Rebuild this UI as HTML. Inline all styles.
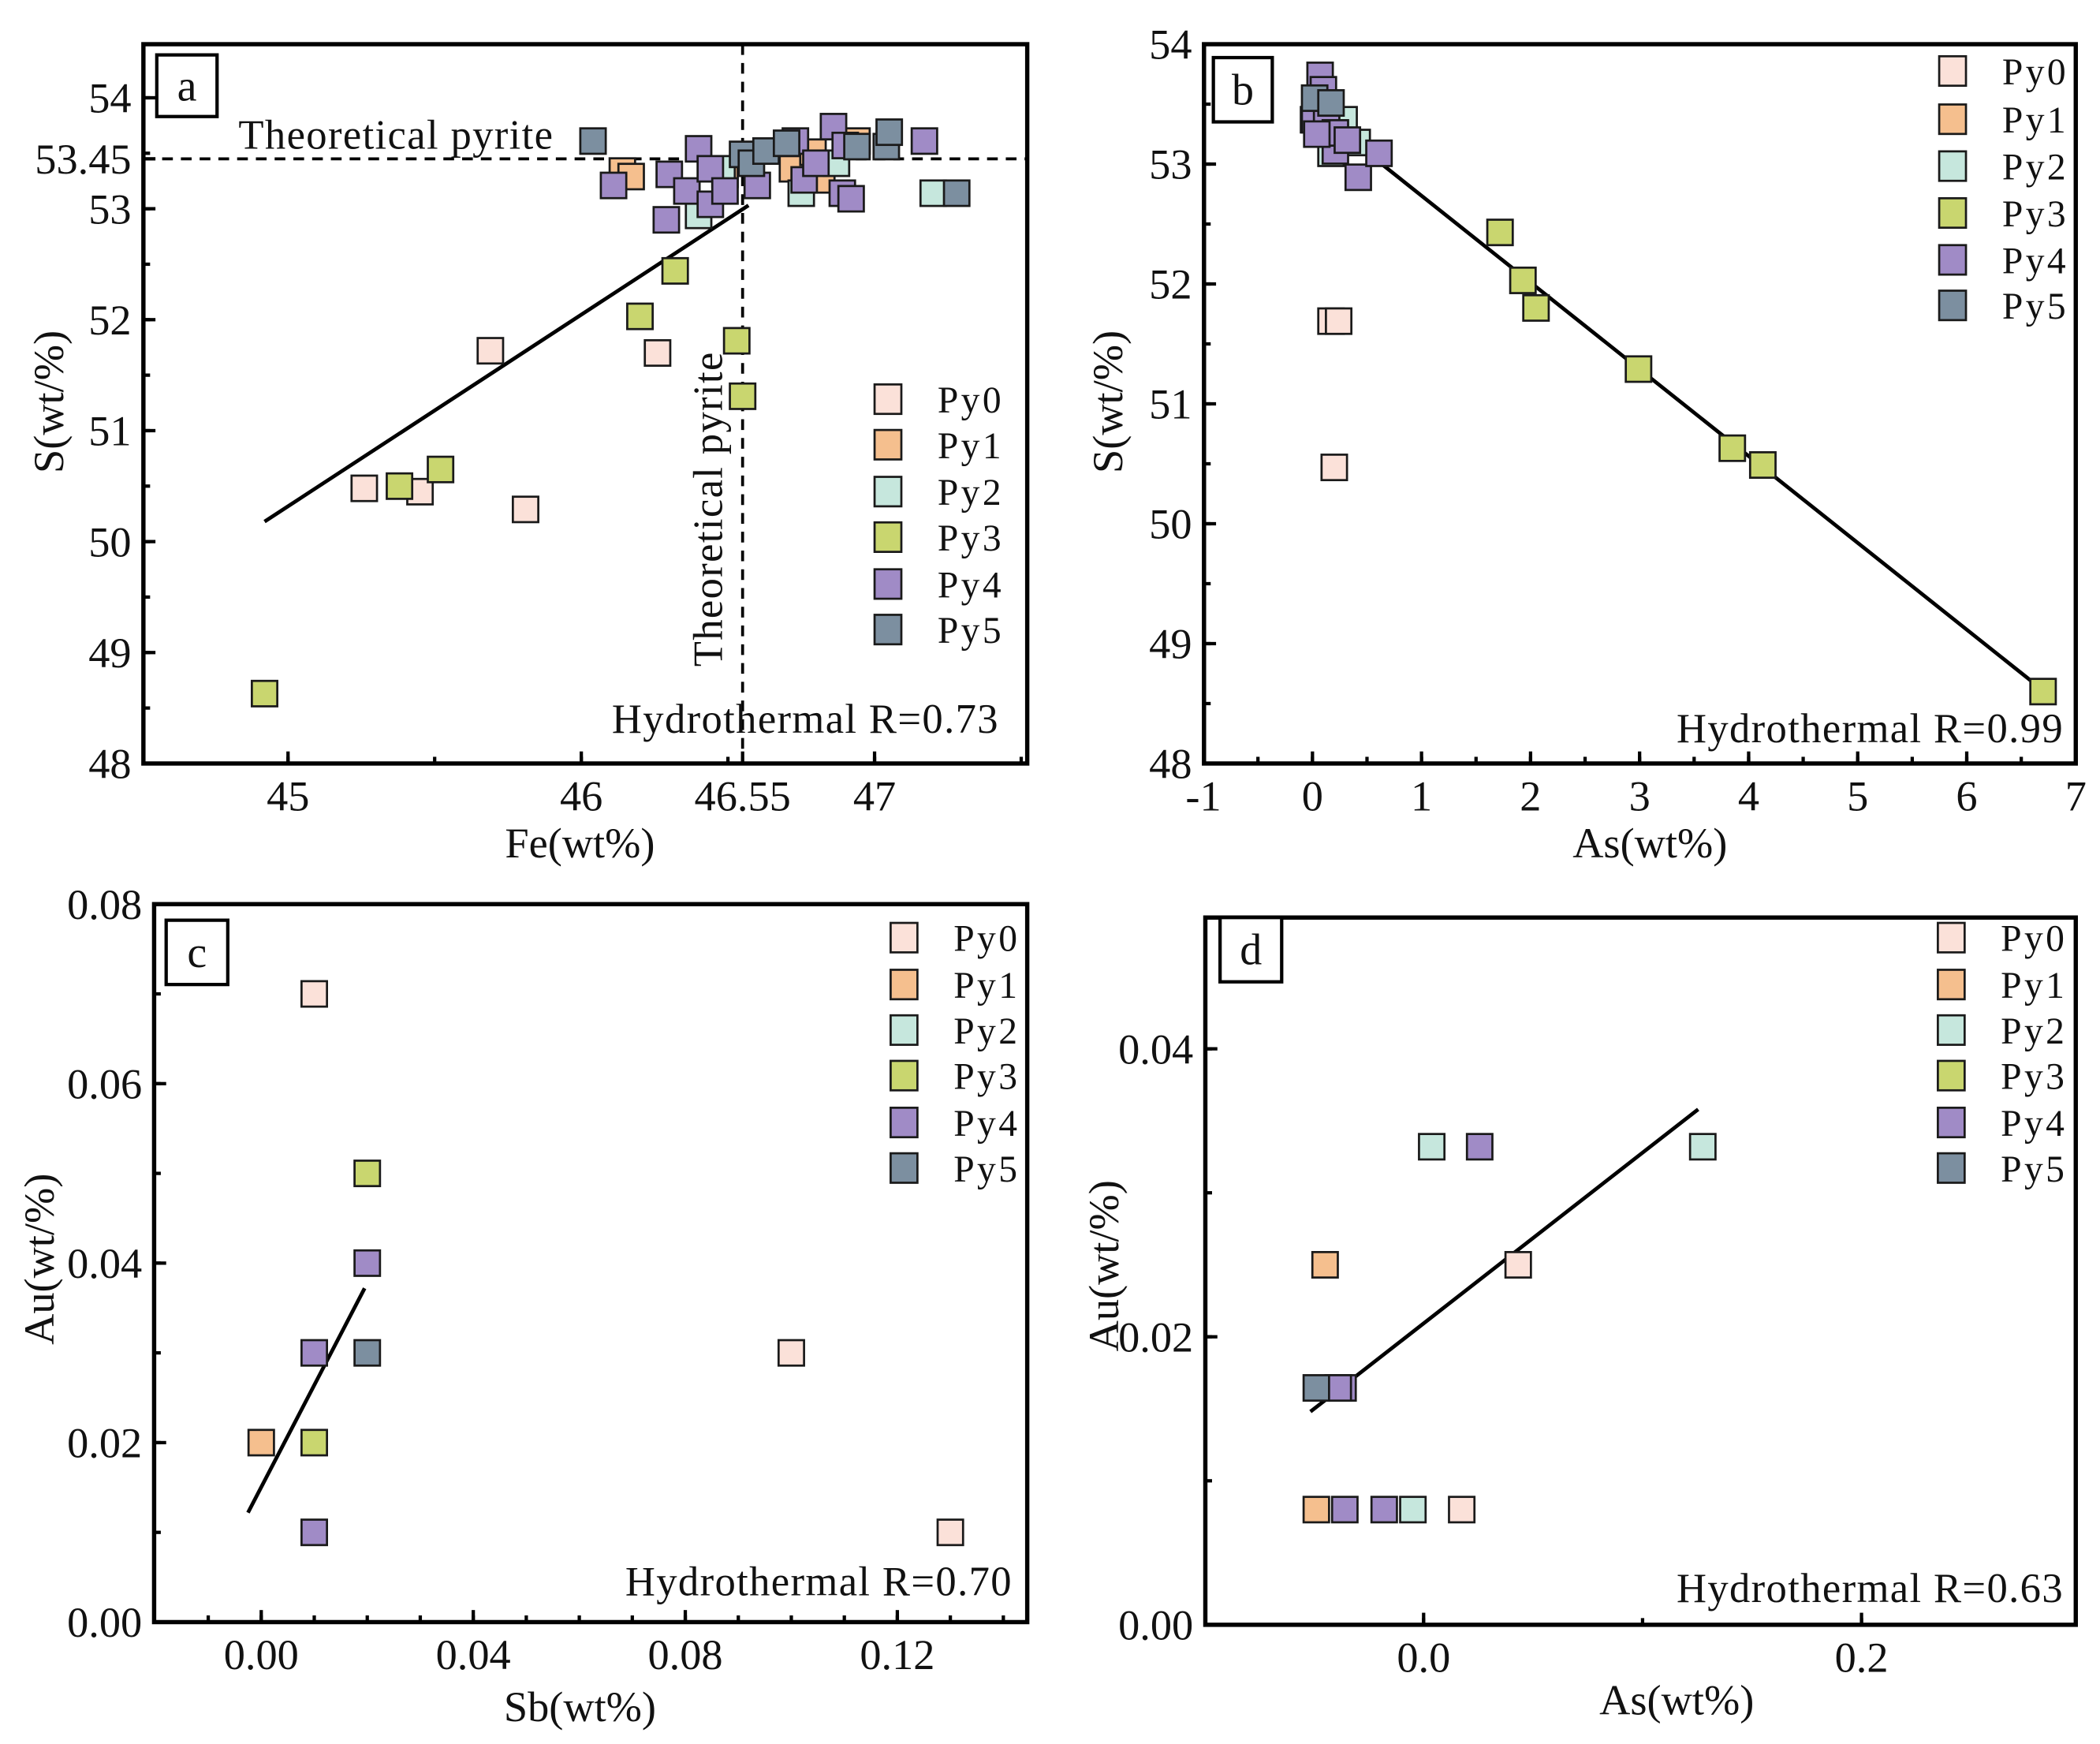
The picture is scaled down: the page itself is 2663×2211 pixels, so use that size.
<!DOCTYPE html>
<html><head><meta charset="utf-8">
<style>
html,body{margin:0;padding:0;background:#fff;}
svg{display:block;}
text{font-family:"Liberation Serif",serif;fill:#111;}
</style></head>
<body>
<svg id="fig" width="2663" height="2211" viewBox="0 0 1568 1302" xmlns="http://www.w3.org/2000/svg"></svg>
<script>
// ---------- Panel a data (Fe vs S) ----------
const aPy0X=[45.26,45.45,45.69,45.81,46.26];
const aPy0Y=[50.48,50.45,51.72,50.29,51.70];
const aPy1X=[46.14,46.17,46.49,46.72,46.79,46.82,46.94];
const aPy1Y=[53.34,53.29,53.31,53.36,53.51,53.26,53.61];
const aPy2X=[46.40,46.48,46.75,46.87,47.20];
const aPy2Y=[52.94,53.36,53.14,53.41,53.14];
const aPy3X=[44.92,45.38,45.52,46.20,46.32,46.53,46.55];
const aPy3Y=[48.63,50.50,50.65,52.03,52.44,51.81,51.31];
const aPy4X=[46.11,46.30,46.29,46.36,46.40,46.44,46.44,46.49,46.60,46.73,46.76,46.80,46.86,46.89,46.92,46.90,47.17];
const aPy4Y=[53.21,53.31,52.90,53.16,53.54,53.36,53.04,53.16,53.21,53.61,53.26,53.41,53.74,53.14,53.09,53.57,53.61];
const aPy5X=[46.04,46.55,46.58,46.63,46.70,46.94,47.04,47.05,47.28];
const aPy5Y=[53.61,53.49,53.41,53.52,53.59,53.56,53.56,53.69,53.14];
const aFitX=[44.92,46.57];
const aFitY=[50.18,53.03];
const aXTicks=[45,46,46.55,47];
const aXTickLabels=["45","46","46.55","47"];
const aYTicks=[48,49,50,51,52,53,53.45,54];
const aYTickLabels=["48","49","50","51","52","53","53.45","54"];

// ---------- Panel b data (As vs S) ----------
const bPy0X=[0.17,0.24,0.20];
const bPy0Y=[51.69,51.69,50.47];
const bPy1X=[0.01];
const bPy1Y=[53.37];
const bPy2X=[0.29,0.41,0.17];
const bPy2Y=[53.37,53.18,53.09];
const bPy3X=[1.72,1.93,2.05,2.99,3.85,4.13,6.70];
const bPy3Y=[52.43,52.03,51.80,51.29,50.63,50.49,48.60];
const bPy4X=[0.07,0.10,0.02,0.13,0.21,0.21,0.32,0.42,0.61,0.04];
const bPy4Y=[53.74,53.62,53.37,53.34,53.11,53.26,53.20,52.89,53.09,53.25];
const bPy5X=[0.02,0.17];
const bPy5Y=[53.55,53.51];
const bFitX=[0.0,6.70];
const bFitY=[53.46,48.61];
const bXTicks=[-1,0,1,2,3,4,5,6,7];
const bXTickLabels=["-1","0","1","2","3","4","5","6","7"];
const bYTicks=[48,49,50,51,52,53,54];
const bYTickLabels=["48","49","50","51","52","53","54"];

// ---------- Panel c data (Sb vs Au) ----------
const cPy0X=[0.01,0.10,0.13];
const cPy0Y=[0.07,0.03,0.01];
const cPy1X=[0.0];
const cPy1Y=[0.02];
const cPy2X=[];
const cPy2Y=[];
const cPy3X=[0.02,0.01];
const cPy3Y=[0.05,0.02];
const cPy4X=[0.02,0.01,0.01];
const cPy4Y=[0.04,0.03,0.01];
const cPy5X=[0.02];
const cPy5Y=[0.03];
const cFitX=[-0.0025,0.0195];
const cFitY=[0.0122,0.0372];
const cXTicks=[0,0.04,0.08,0.12];
const cXTickLabels=["0.00","0.04","0.08","0.12"];
const cYTicks=[0,0.02,0.04,0.06,0.08];
const cYTickLabels=["0.00","0.02","0.04","0.06","0.08"];

// ---------- Panel d data (As vs Au) ----------
const dPy0X=[0.0174,0.0432];
const dPy0Y=[0.008,0.025];
const dPy1X=[-0.045,-0.049];
const dPy1Y=[0.025,0.008];
const dPy2X=[0.0037,0.1275,-0.0049];
const dPy2Y=[0.0332,0.0332,0.008];
const dPy3X=[];
const dPy3Y=[];
const dPy4X=[0.0256,-0.0368,-0.039,-0.036,-0.018];
const dPy4Y=[0.0332,0.01645,0.01645,0.008,0.008];
const dPy5X=[-0.049];
const dPy5Y=[0.01645];
const dFitX=[-0.0517,0.1254];
const dFitY=[0.0148,0.0358];
const dXTicks=[0,0.2];
const dXTickLabels=["0.0","0.2"];
const dYTicks=[0,0.02,0.04];
const dYTickLabels=["0.00","0.02","0.04"];

const colors=["#fbe1d9","#f5bf8e","#c6e7dd","#c9d66f","#a08bc6","#7c8fa0"];
const names=["Py0","Py1","Py2","Py3","Py4","Py5"];
const NS="http://www.w3.org/2000/svg";
const svg=document.getElementById('fig');
function mk(tag,attrs,parent){const e=document.createElementNS(NS,tag);for(const k in attrs)e.setAttribute(k,attrs[k]);(parent||svg).appendChild(e);return e;}

function panel(cfg){
  const g=mk('g',{});
  
  
  const X=v=>cfg.px0+(v-cfg.x0)*(cfg.px1-cfg.px0)/(cfg.x1-cfg.x0);
  const Y=v=>cfg.py0+(v-cfg.y0)*(cfg.py1-cfg.py0)/(cfg.y1-cfg.y0);
  const L=cfg.L,R=cfg.R,T=cfg.T,B=cfg.B;
  for(let v=cfg.xMinorStart;v<=cfg.xMinorEnd+1e-9;v+=cfg.xMinorStep){const x=X(v);if(x<=L+2||x>=R-2)continue;
    const t=mk('line',{x1:x,x2:x,y1:B,y2:B-5,stroke:'#000','stroke-width':2.5},g);
    
    }
  for(let v=cfg.yMinorStart;v<=cfg.yMinorEnd+1e-9;v+=cfg.yMinorStep){const y=Y(v);if(y>=B-2||y<=T+2)continue;
    const t=mk('line',{x1:L,x2:L+5,y1:y,y2:y,stroke:'#000','stroke-width':2.5},g);
    
    }
  cfg.xt.forEach((v,i)=>{const x=X(v);
    if(x>L+2&&x<R-2){const t=mk('line',{x1:x,x2:x,y1:B,y2:B-9,stroke:'#000','stroke-width':2.5},g);
    
    }
    const tx=mk('text',{x:x,y:B+35,'text-anchor':'middle','font-size':32},g);tx.textContent=cfg.xtl[i];
    
    });
  cfg.yt.forEach((v,i)=>{const y=Y(v);
    if(y<B-2&&y>T+2){const t=mk('line',{x1:L,x2:L+9,y1:y,y2:y,stroke:'#000','stroke-width':2.5},g);
    
    }
    const tx=mk('text',{x:L-9,y:y+11,'text-anchor':'end','font-size':32},g);tx.textContent=cfg.ytl[i];
    
    });
  (cfg.refs||[]).forEach(r=>{
    let ln;
    if(r.h!==undefined) ln=mk('line',{x1:L,x2:R,y1:Y(r.h),y2:Y(r.h),stroke:'#000','stroke-width':2.2,'stroke-dasharray':'8,6'},g);
    else ln=mk('line',{x1:X(r.v),x2:X(r.v),y1:T,y2:B,stroke:'#000','stroke-width':2.2,'stroke-dasharray':'8,6'},g);
    
    
  });
  const fl=mk('line',{x1:X(cfg.fitX[0]),y1:Y(cfg.fitY[0]),x2:X(cfg.fitX[1]),y2:Y(cfg.fitY[1]),stroke:'#000','stroke-width':2.8},g);
  
  
  const sz=19;
  cfg.series.forEach((s,si)=>{s[0].forEach((xv,j)=>{
    const r=mk('rect',{x:X(xv)-sz/2,y:Y(s[1][j])-sz/2,width:sz,height:sz,fill:colors[si],stroke:'#1a1a1a','stroke-width':1.6},g);
    
    
  });});
  const fr=mk('rect',{x:L,y:T,width:R-L,height:B-T,fill:'none',stroke:'#000','stroke-width':3.2},g);
  
  
  const lb=mk('rect',{x:cfg.lab[0],y:cfg.lab[1],width:cfg.lab[2],height:cfg.lab[3],fill:'#fff',stroke:'#000','stroke-width':2.5},g);
  
  
  const lt=mk('text',{x:cfg.lab[0]+cfg.lab[2]/2,y:cfg.lab[1]+cfg.lab[3]/2+11,'text-anchor':'middle','font-size':33},g);lt.textContent=cfg.id;
  
  
  cfg.legY.forEach((y,i)=>{
    const r=mk('rect',{x:cfg.legX-10,y:y-11,width:20,height:22,fill:colors[i],stroke:'#1a1a1a','stroke-width':1.6},g);
    
    
    const t=mk('text',{x:cfg.legX+37,y:y+10,'font-size':28,'letter-spacing':2},g);t.textContent=names[i];
    
    
  });
  const an=mk('text',{x:cfg.ann[0],y:cfg.ann[1],'text-anchor':'end','font-size':31,'letter-spacing':0.8},g);an.textContent=cfg.ann[2];
  
  
  const xt=mk('text',{x:cfg.xTitle[0],y:cfg.xTitle[1],'text-anchor':'middle','font-size':32},g);xt.textContent=cfg.xTitle[2];
  
  
  const yt=mk('text',{x:0,y:0,'text-anchor':'middle','font-size':32,transform:`translate(${cfg.yTitle[0]},${cfg.yTitle[1]}) rotate(-90)`},g);yt.textContent=cfg.yTitle[2];
  
  
  return g;
}

const ga=panel({id:'a',L:107,R:767,T:33,B:570,x0:45,x1:47,px0:215,px1:653,y0:48,y1:54,py0:570,py1:73,
  xMinorStart:44.5,xMinorEnd:47.5,xMinorStep:0.5,yMinorStart:48,yMinorEnd:54.5,yMinorStep:0.5,
  xt:aXTicks,xtl:aXTickLabels,yt:aYTicks,ytl:aYTickLabels,
  refs:[{h:53.45},{v:46.55}],fitX:aFitX,fitY:aFitY,
  series:[[aPy0X,aPy0Y],[aPy1X,aPy1Y],[aPy2X,aPy2Y],[aPy3X,aPy3Y],[aPy4X,aPy4Y],[aPy5X,aPy5Y]],
  lab:[117,41,45,46],legX:663,legY:[298,332,367,401,436,470],ann:[746,547,'Hydrothermal  R=0.73'],
  xTitle:[433,640,'Fe(wt%)'],yTitle:[47,300,'S(wt/%)']});
const t1=mk('text',{x:178,y:111,'font-size':31,'letter-spacing':0.8},ga);t1.textContent='Theoretical pyrite';


const t2=mk('text',{x:0,y:0,'font-size':31,'text-anchor':'middle','letter-spacing':0.8,transform:'translate(539,380) rotate(-90)'},ga);t2.textContent='Theoretical pyrite';



panel({id:'b',L:899,R:1550,T:33,B:570,x0:0,x1:7,px0:980,px1:1550,y0:48,y1:54,py0:570,py1:33,
  xMinorStart:-1,xMinorEnd:7,xMinorStep:0.5,yMinorStart:48,yMinorEnd:54,yMinorStep:0.5,
  xt:bXTicks,xtl:bXTickLabels,yt:bYTicks,ytl:bYTickLabels,
  refs:[],fitX:bFitX,fitY:bFitY,
  series:[[bPy0X,bPy0Y],[bPy1X,bPy1Y],[bPy2X,bPy2Y],[bPy3X,bPy3Y],[bPy4X,bPy4Y],[bPy5X,bPy5Y]],
  lab:[906,43,44,48],legX:1458,legY:[53,89,124,159,194,228],ann:[1541,554,'Hydrothermal R=0.99'],
  xTitle:[1232,640,'As(wt%)'],yTitle:[838,300,'S(wt/%)']});

panel({id:'c',L:115,R:767,T:675,B:1211,x0:0,x1:0.12,px0:195,px1:670,y0:0,y1:0.08,py0:1211,py1:675,
  xMinorStart:-0.02,xMinorEnd:0.14,xMinorStep:0.01,yMinorStart:0,yMinorEnd:0.08,yMinorStep:0.01,
  xt:cXTicks,xtl:cXTickLabels,yt:cYTicks,ytl:cYTickLabels,
  refs:[],fitX:cFitX,fitY:cFitY,
  series:[[cPy0X,cPy0Y],[cPy1X,cPy1Y],[cPy2X,cPy2Y],[cPy3X,cPy3Y],[cPy4X,cPy4Y],[cPy5X,cPy5Y]],
  lab:[124,687,46,48],legX:675,legY:[700,735,769,803,838,872],ann:[756,1191,'Hydrothermal R=0.70'],
  xTitle:[433,1285,'Sb(wt%)'],yTitle:[40,940,'Au(wt/%)']});

panel({id:'d',L:900,R:1550,T:685,B:1213,x0:0,x1:0.2,px0:1063,px1:1390,y0:0,y1:0.04,py0:1213,py1:783,
  xMinorStart:-0.1,xMinorEnd:0.3,xMinorStep:0.1,yMinorStart:0,yMinorEnd:0.05,yMinorStep:0.01,
  xt:dXTicks,xtl:dXTickLabels,yt:dYTicks,ytl:dYTickLabels,
  refs:[],fitX:dFitX,fitY:dFitY,
  series:[[dPy0X,dPy0Y],[dPy1X,dPy1Y],[dPy2X,dPy2Y],[dPy3X,dPy3Y],[dPy4X,dPy4Y],[dPy5X,dPy5Y]],
  lab:[911,685,46,48],legX:1457,legY:[700,735,769,803,838,872],ann:[1541,1196,'Hydrothermal  R=0.63'],
  xTitle:[1252,1280,'As(wt%)'],yTitle:[835,945,'Au(wt/%)']});
</script>
</body></html>
